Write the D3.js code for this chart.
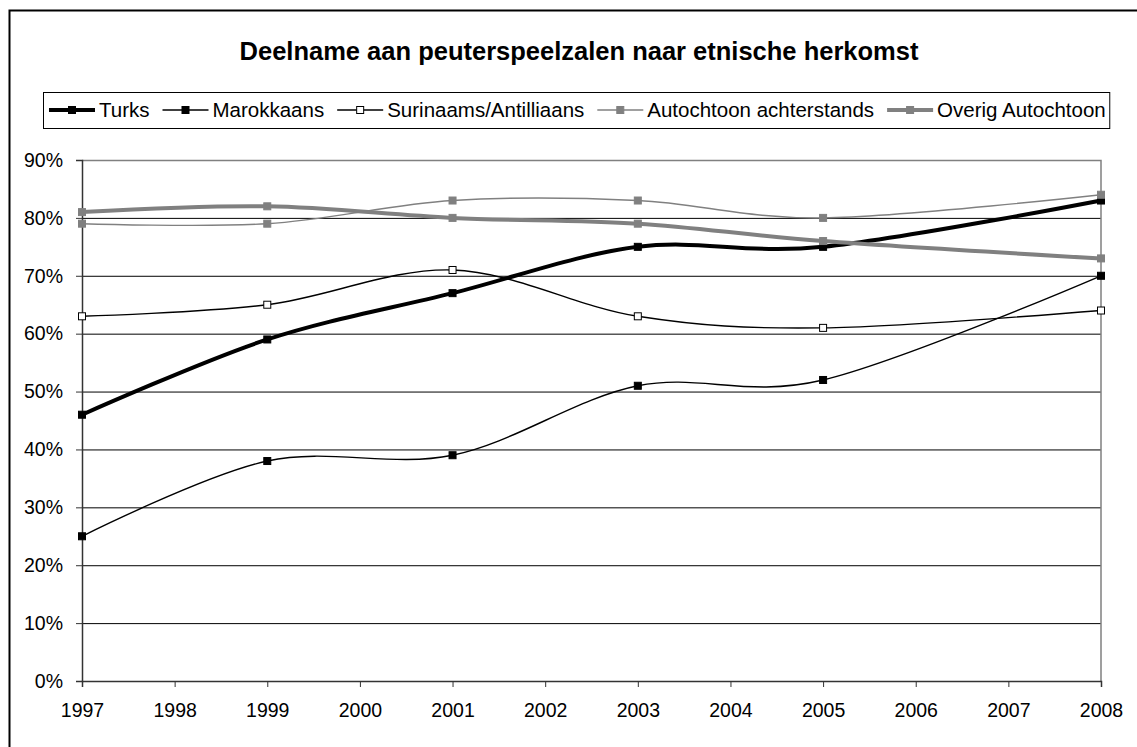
<!DOCTYPE html>
<html>
<head>
<meta charset="utf-8">
<script src="https://cdn.jsdelivr.net/npm/d3@7"></script>
<style>
body{margin:0;background:#fff;}
text{font-family:Arial,"Liberation Sans",sans-serif;fill:#000;}
</style>
</head>
<body>
<svg id="chart"></svg>
<script>
//years on the category axis
var years = [1997,1998,1999,2000,2001,2002,2003,2004,2005,2006,2007,2008];
//years that actually have a value
var dataYears = [1997,1999,2001,2003,2005,2008];

//percentages per group
var turks = [46,59,67,75,75,83];
var marokkaans = [25,38,39,51,52,70];
var surinaams = [63,65,71,63,61,64];
var autochtoonAchter = [79,79,83,83,80,84];
var overigAutochtoon = [81,82,80,79,76,73];

var seriesNames = ["Turks","Marokkaans","Surinaams/Antilliaans","Autochtoon achterstands","Overig Autochtoon"];
var yTicks = [0,10,20,30,40,50,60,70,80,90];

var styles = [
    {stroke:"#000",width:4,fill:"#000",mstroke:"#000"},
    {stroke:"#000",width:1.4,fill:"#000",mstroke:"#000"},
    {stroke:"#000",width:1.4,fill:"#fff",mstroke:"#000"},
    {stroke:"#808080",width:1.4,fill:"#808080",mstroke:"#808080"},
    {stroke:"#808080",width:4,fill:"#808080",mstroke:"#808080"}
];
var values = [turks,marokkaans,surinaams,autochtoonAchter,overigAutochtoon];

var screen = {width:1137,height:747};
var margins = {top:160,left:82,right:36,bottom:66};
var graph = {
    width:screen.width-margins.left-margins.right,
    height:screen.height-margins.top-margins.bottom
};

var svg = d3.select("#chart")
    .attr("width",screen.width)
    .attr("height",screen.height);

//outer frame
svg.append("rect")
    .attr("x",9.5).attr("y",10.5)
    .attr("width",1140).attr("height",750)
    .attr("fill","#fff")
    .attr("stroke","#000")
    .attr("stroke-width",2);

//title
svg.append("text")
    .attr("x",579).attr("y",60)
    .attr("text-anchor","middle")
    .style("font-size","25.5px")
    .style("font-weight","bold")
    .text("Deelname aan peuterspeelzalen naar etnische herkomst");

var xScale = d3.scalePoint()
    .domain(years)
    .range([0,graph.width]);
var yScale = d3.scaleLinear()
    .domain([0,90])
    .range([graph.height,0]);

var g = svg.append("g")
    .attr("transform","translate("+margins.left+","+margins.top+")");

//gridlines
g.append("g")
    .attr("class","grid")
    .call(d3.axisLeft(yScale).tickValues(yTicks.slice(1,9)).tickSize(-graph.width).tickFormat(""))
    .call(function(s){
        s.select(".domain").remove();
        s.selectAll("line").attr("stroke","#000").attr("stroke-width",1);
    });

//plot area top and right border
g.append("path")
    .attr("d","M0,0.5H"+graph.width+"V"+graph.height)
    .attr("fill","none")
    .attr("stroke","#808080")
    .attr("stroke-width",1.5);

//y axis
g.append("g")
    .call(d3.axisLeft(yScale).tickValues(yTicks).tickSize(6).tickPadding(13)
        .tickFormat(function(d){return d+"%";}))
    .call(function(s){
        s.select(".domain").attr("stroke","#333").attr("stroke-width",1.5);
        s.selectAll("line").attr("stroke","#333");
        s.selectAll("text").style("font-size","19.5px").attr("font-family",null);
    });

//x axis
g.append("g")
    .attr("transform","translate(0,"+graph.height+")")
    .call(d3.axisBottom(xScale).tickSize(6).tickPadding(16))
    .call(function(s){
        s.select(".domain").attr("stroke","#333").attr("stroke-width",1.5);
        s.selectAll("line").attr("stroke","#333");
        s.selectAll("text").style("font-size","19.5px").attr("font-family",null);
    });

//smoothed lines like the spreadsheet
var line = d3.line()
    .x(function(d){return xScale(d.year);})
    .y(function(d){return yScale(d.value);})
    .curve(d3.curveCardinal.tension(0));

values.forEach(function(vals,i)
{
    var pts = dataYears.map(function(y,j){return {year:y,value:vals[j]};});
    var st = styles[i];
    var sg = g.append("g");
    sg.append("path")
        .datum(pts)
        .attr("d",line)
        .attr("fill","none")
        .attr("stroke",st.stroke)
        .attr("stroke-width",st.width);
    sg.selectAll("rect")
        .data(pts)
        .enter()
        .append("rect")
        .attr("x",function(d){return xScale(d.year)-3.5;})
        .attr("y",function(d){return yScale(d.value)-3.5;})
        .attr("width",7).attr("height",7)
        .attr("fill",st.fill)
        .attr("stroke",st.mstroke)
        .attr("stroke-width",1);
});

//legend
var legend = svg.append("g");
var legendBox = legend.append("rect")
    .attr("fill","#fff")
    .attr("stroke","#000")
    .attr("stroke-width",1);
var lx = 49;
var ly = 110;
seriesNames.forEach(function(name,i)
{
    var st = styles[i];
    legend.append("line")
        .attr("x1",lx).attr("x2",lx+46)
        .attr("y1",ly).attr("y2",ly)
        .attr("stroke",st.stroke)
        .attr("stroke-width",st.width);
    legend.append("rect")
        .attr("x",lx+23-3.5).attr("y",ly-3.5)
        .attr("width",7).attr("height",7)
        .attr("fill",st.fill)
        .attr("stroke",st.mstroke);
    var t = legend.append("text")
        .attr("x",lx+50).attr("y",117)
        .style("font-size","20.5px")
        .text(name);
    lx = lx+50+t.node().getComputedTextLength()+13;
});
legendBox
    .attr("x",43.5).attr("y",92.5)
    .attr("width",lx-13+4-43.5).attr("height",36);
</script>
</body>
</html>
